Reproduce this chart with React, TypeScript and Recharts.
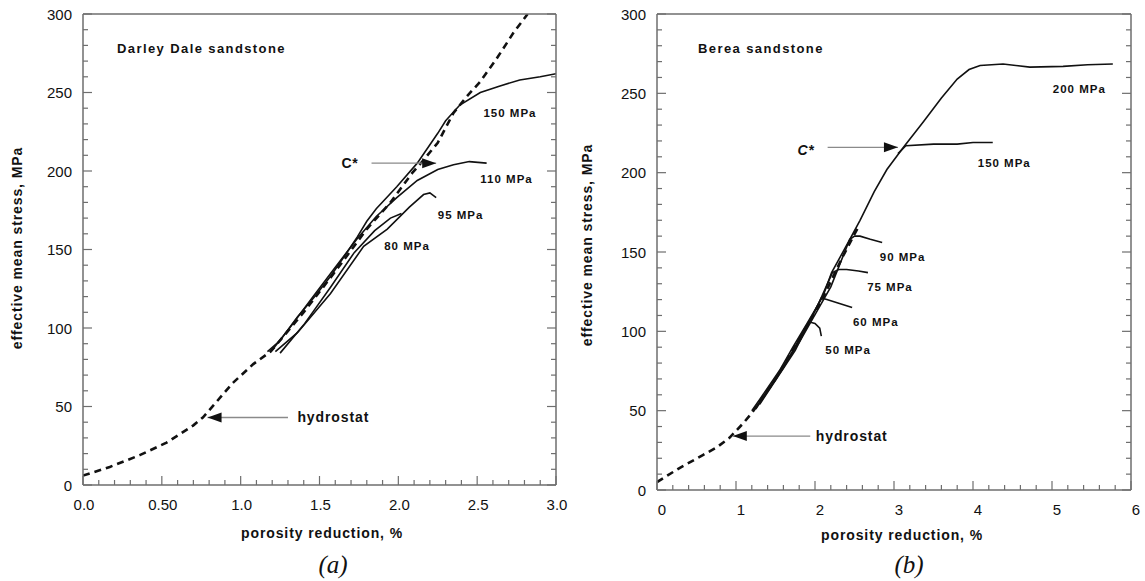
import React from "react";
import { LineChart, Line, XAxis, YAxis, ReferenceLine, ReferenceDot } from "recharts";

type Pt = { x: number; y: number };
const pts = (a: number[][]): Pt[] => a.map(([x, y]) => ({ x, y }));

// (a) Darley Dale sandstone
const ddHydrostat = pts([
  [0, 6], [0.17, 11.5], [0.36, 19], [0.53, 27], [0.7, 38], [0.76, 43], [0.83, 51], [0.95, 65],
  [1.08, 77], [1.19, 85], [1.4, 110], [1.6, 136], [1.8, 163], [1.95, 180], [2.09, 199],
  [2.16, 207], [2.25, 218], [2.35, 237], [2.43, 247], [2.52, 257], [2.62, 271], [2.73, 288], [2.82, 300],
]);
const dd150 = pts([
  [1.17, 85], [1.25, 92], [1.36, 107], [1.47, 120], [1.57, 133], [1.66, 146], [1.74, 158],
  [1.8, 168], [1.86, 176], [1.99, 190], [2.12, 205], [2.25, 224], [2.3, 232], [2.39, 242],
  [2.52, 250], [2.64, 254], [2.77, 258], [2.9, 260], [3.0, 262],
]);
const dd110 = pts([
  [1.2, 86], [1.31, 100], [1.46, 120], [1.61, 140], [1.74, 157], [1.86, 171], [1.99, 183],
  [2.12, 194], [2.25, 201], [2.35, 204], [2.45, 206], [2.56, 205],
]);
const dd95 = pts([
  [1.22, 85], [1.36, 97], [1.57, 122], [1.78, 152], [1.93, 163], [2.07, 177], [2.16, 185],
  [2.2, 186], [2.24, 183],
]);
const dd80 = pts([
  [1.25, 84], [1.4, 102], [1.57, 126], [1.72, 148], [1.85, 162], [1.95, 170], [2.02, 173],
]);
const ddXMajor = [0, 0.5, 1, 1.5, 2, 2.5, 3];
const ddXLabels = ["0.0", "0.50", "1.0", "1.5", "2.0", "2.5", "3.0"];

// (b) Berea sandstone
const beHydrostat = pts([
  [0, 5], [0.29, 14], [0.58, 22], [0.76, 27], [0.92, 33], [1.09, 42], [1.2, 48.5],
  [1.5, 70], [1.8, 95], [2.1, 121], [2.35, 147], [2.55, 166],
]);
const be200 = pts([
  [1.2, 50], [1.3, 57], [1.56, 76], [1.72, 90], [1.9, 105], [2.1, 122], [2.21, 137],
  [2.42, 156], [2.57, 170], [2.75, 188], [2.91, 202], [3.12, 216], [3.37, 232], [3.6, 247],
  [3.8, 259], [3.95, 265], [4.09, 267.5], [4.38, 268.5], [4.72, 266.5], [5.14, 267], [5.45, 268], [5.77, 268.5],
]);
const be150 = pts([[3.05, 212], [3.15, 217], [3.5, 218], [3.8, 218], [4.0, 219], [4.25, 219]]);
const be90 = pts([[1.3, 55], [1.8, 93], [2.2, 128], [2.44, 158], [2.5, 160], [2.57, 160], [2.7, 158], [2.85, 156]]);
const be75 = pts([[1.3, 54], [1.75, 88], [2.05, 118], [2.22, 137], [2.3, 139], [2.4, 139], [2.55, 138], [2.67, 137]]);
const be60 = pts([[1.25, 51], [1.6, 77], [1.9, 103], [2.08, 121], [2.15, 120], [2.28, 118], [2.47, 115]]);
const be50 = pts([[1.25, 52], [1.5, 70], [1.7, 86], [1.85, 100], [1.92, 106], [2.0, 105], [2.06, 102], [2.08, 97]]);
const beXMajor = [0, 1, 2, 3, 4, 5, 6];
const beXLabels = ["0", "1", "2", "3", "4", "5", "6"];

const yMajor = [0, 50, 100, 150, 200, 250, 300];
const yLabels = ["0", "50", "100", "150", "200", "250", "300"];

const FONT = "'Liberation Sans', Arial, sans-serif";
const AXIS = "#6e6e6e";
const INK = "#111";

const steps = (max: number, step: number) => {
  const out: number[] = [];
  for (let i = 0; i * step <= max + 1e-9; i++) out.push(Math.round(i * step * 1000) / 1000);
  return out;
};
const yTicks = steps(300, 10);

function makeTick(side: string, majors: number[], labels: string[] | null, dx = 0) {
  return (props: any) => {
    const { x, y, payload } = props;
    const i = majors.findIndex((m) => Math.abs(m - payload.value) < 1e-6);
    const len = i >= 0 ? 9 : 5;
    let c = { x1: x, y1: y, x2: x, y2: y - len };
    if (side === "top") c = { x1: x, y1: y, x2: x, y2: y + len };
    if (side === "left") c = { x1: x, y1: y, x2: x + len, y2: y };
    if (side === "right") c = { x1: x, y1: y, x2: x - len, y2: y };
    let label = null;
    if (labels && i >= 0) {
      label =
        side === "bottom" ? (
          <text x={x + dx} y={y + 19} textAnchor="middle" dominantBaseline="central" fontSize={15} fontFamily={FONT} fill={INK}>
            {labels[i]}
          </text>
        ) : (
          <text x={x - 11} y={y} textAnchor="end" dominantBaseline="central" fontSize={15} fontFamily={FONT} fill={INK}>
            {labels[i]}
          </text>
        );
    }
    return (
      <g>
        <line {...c} stroke={AXIS} strokeWidth={1.2} />
        {label}
      </g>
    );
  };
}

function axes(xMax: number, xStep: number, xMajor: number[], xLabels: string[], dx: number, leftW: number, bottomH: number) {
  const xTicks = steps(xMax, xStep);
  const line = { stroke: AXIS, strokeWidth: 1.5 };
  return [
    <XAxis key="xb" xAxisId="b" type="number" dataKey="x" domain={[0, xMax]} ticks={xTicks} interval={0}
      tickSize={0} tickMargin={0} tickLine={false} axisLine={line} height={bottomH} allowDataOverflow
      tick={makeTick("bottom", xMajor, xLabels, dx)} />,
    <XAxis key="xt" xAxisId="t" orientation="top" type="number" domain={[0, xMax]} ticks={xTicks} interval={0}
      tickSize={0} tickMargin={0} tickLine={false} axisLine={line} height={14} allowDataOverflow
      tick={makeTick("top", xMajor, null)} />,
    <YAxis key="yl" yAxisId="l" type="number" domain={[0, 300]} ticks={yTicks} interval={0}
      tickSize={0} tickMargin={0} tickLine={false} axisLine={line} width={leftW} allowDataOverflow
      tick={makeTick("left", yMajor, yLabels)} />,
    <YAxis key="yr" yAxisId="r" orientation="right" type="number" domain={[0, 300]} ticks={yTicks} interval={0}
      tickSize={0} tickMargin={0} tickLine={false} axisLine={line} width={14} allowDataOverflow
      tick={makeTick("right", yMajor, null)} />,
  ];
}

const ids = { xAxisId: "b", yAxisId: "l" };

function curve(key: string, data: Pt[], dashed = false) {
  return (
    <Line key={key} {...ids} data={data} dataKey="y" type="linear" dot={false} isAnimationActive={false}
      stroke={INK} strokeWidth={dashed ? 2.6 : 1.6} strokeDasharray={dashed ? "7 5" : undefined} />
  );
}

function note(key: string, x: number, y: number, text: string, size = 11.5, italic = false, spacing = 1) {
  return (
    <ReferenceDot key={key} {...ids} x={x} y={y} r={0}
      shape={(p: any) => (
        <text x={p.cx} y={p.cy} dominantBaseline="central" fontFamily={FONT} fontWeight="bold"
          fontSize={size} fontStyle={italic ? "italic" : "normal"} letterSpacing={spacing} fill={INK}>
          {text}
        </text>
      )} />
  );
}

function arrow(key: string, x1: number, x2: number, y: number, dir: "left" | "right") {
  return [
    <ReferenceLine key={key + "l"} {...ids} segment={[{ x: x1, y }, { x: x2, y }]} stroke="#8a8a8a" strokeWidth={1.3} />,
    <ReferenceDot key={key + "h"} {...ids} x={dir === "left" ? x1 : x2} y={y} r={0}
      shape={(p: any) => {
        const s = dir === "left" ? 1 : -1;
        return <polygon points={`${p.cx},${p.cy} ${p.cx + 14 * s},${p.cy - 5} ${p.cx + 14 * s},${p.cy + 5}`} fill={INK} />;
      }} />,
  ];
}

const divText = (left: number, top: number, text: string, style: React.CSSProperties = {}) => (
  <div style={{ position: "absolute", left, top, transform: "translate(-50%, -50%)", whiteSpace: "nowrap", fontFamily: FONT, color: INK, ...style }}>
    {text}
  </div>
);

const titleStyle: React.CSSProperties = { fontSize: 14, fontWeight: "bold", letterSpacing: 0.9 };
const panelTag: React.CSSProperties = { fontSize: 25, fontStyle: "italic", fontFamily: "'Liberation Serif', 'Times New Roman', serif" };

export default function App() {
  return (
    <div style={{ position: "absolute", left: 0, top: 0, width: 1145, height: 581, background: "#fff" }}>
      <div style={{ position: "absolute", left: 0, top: 0 }}>
        <LineChart width={570} height={581} margin={{ top: 0, right: 0, bottom: 0, left: 0 }}>
          {axes(3, 0.1, ddXMajor, ddXLabels, 1, 83, 96)}
          {curve("ddh", ddHydrostat, true)}
          {curve("dd150", dd150)}
          {curve("dd110", dd110)}
          {curve("dd95", dd95)}
          {curve("dd80", dd80)}
          {arrow("ddha", 0.79, 1.3, 43, "left")}
          {arrow("ddca", 1.83, 2.24, 205, "right")}
          {note("ddt", 0.216, 278, "Darley Dale sandstone", 13, false, 1.4)}
          {note("dd150t", 2.54, 237, "150 MPa")}
          {note("dd110t", 2.52, 195, "110 MPa")}
          {note("dd95t", 2.25, 172, "95 MPa")}
          {note("dd80t", 1.91, 152, "80 MPa")}
          {note("ddc", 1.64, 205, "C*", 14, false, 0.5)}
          {note("ddhy", 1.36, 43, "hydrostat", 14, false, 0.9)}
        </LineChart>
      </div>
      <div style={{ position: "absolute", left: 570, top: 0 }}>
        <LineChart width={575} height={581} margin={{ top: 0, right: 0, bottom: 0, left: 0 }}>
          {axes(6, 0.2, beXMajor, beXLabels, 5, 87, 91)}
          {curve("beh", beHydrostat, true)}
          {curve("be50", be50)}
          {curve("be60", be60)}
          {curve("be75", be75)}
          {curve("be90", be90)}
          {curve("be150", be150)}
          {curve("be200", be200)}
          {arrow("beha", 0.96, 1.94, 34, "left")}
          {arrow("beca", 2.16, 3.05, 216, "right")}
          {note("bet", 0.52, 278.5, "Berea sandstone", 13, false, 1.4)}
          {note("be200t", 5.01, 253, "200 MPa")}
          {note("be150t", 4.06, 206, "150 MPa")}
          {note("be90t", 2.82, 147, "90 MPa")}
          {note("be75t", 2.66, 128, "75 MPa")}
          {note("be60t", 2.48, 106, "60 MPa")}
          {note("be50t", 2.13, 88, "50 MPa")}
          {note("bec", 1.78, 214, "C*", 14, true, 0.5)}
          {note("behy", 2.01, 34, "hydrostat", 14, false, 0.9)}
        </LineChart>
      </div>
      {divText(17, 248, "effective mean stress, MPa", { ...titleStyle, transform: "translate(-50%, -50%) rotate(-90deg)" })}
      {divText(587, 245, "effective mean stress, MPa", { ...titleStyle, transform: "translate(-50%, -50%) rotate(-90deg)" })}
      {divText(322, 533, "porosity reduction, %", titleStyle)}
      {divText(902, 535, "porosity reduction, %", titleStyle)}
      {divText(333, 565, "(a)", panelTag)}
      {divText(909, 565, "(b)", panelTag)}
    </div>
  );
}
